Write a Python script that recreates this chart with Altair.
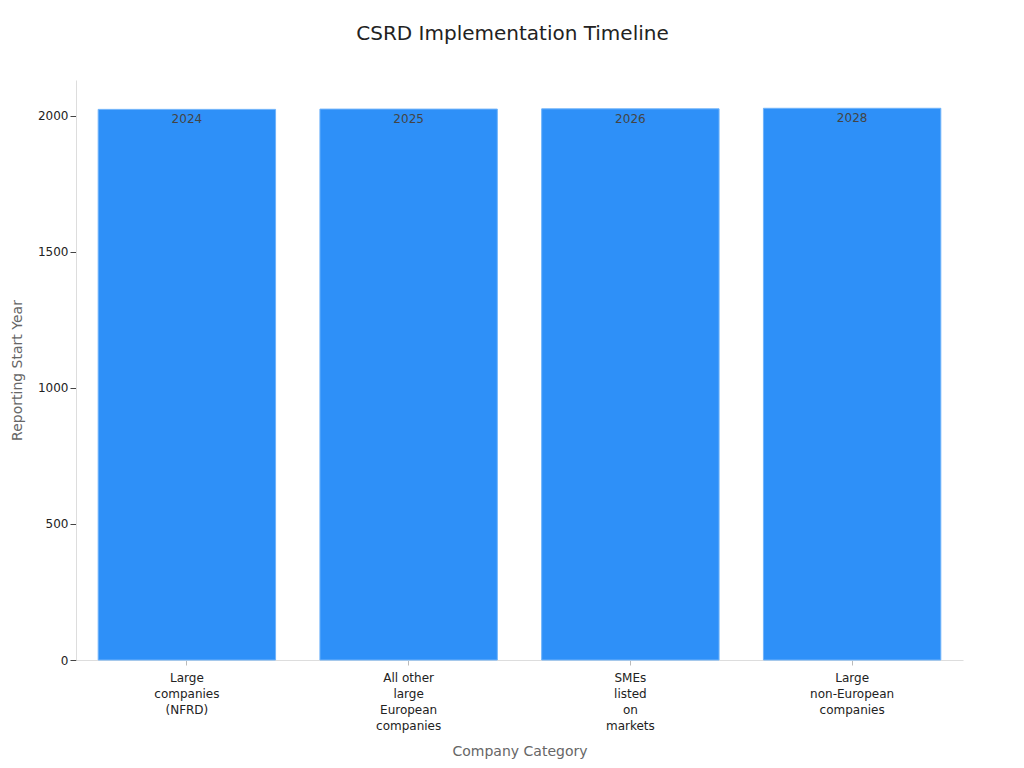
import pandas as pd
import altair as alt

categories = [
    "Large\ncompanies\n(NFRD)",
    "All other\nlarge\nEuropean\ncompanies",
    "SMEs\nlisted\non\nmarkets",
    "Large\nnon-European\ncompanies",
]
start_years = [2024, 2025, 2026, 2028]

df = pd.DataFrame({"category": categories, "year": start_years})
df["year_label"] = df["year"].astype(str)

font = "DejaVu Sans"

base = alt.Chart(df).encode(
    x=alt.X(
        "category:N",
        sort=categories,
        title="Company Category",
        scale=alt.Scale(paddingInner=0.2, paddingOuter=0.1),
        axis=alt.Axis(
            labelAngle=0,
            labelExpr="split(datum.label, '\\n')",
            labelLineHeight=16,
            labelFontSize=12,
            labelColor="#222",
            labelPadding=7,
            tickColor="#bbb",
            tickSize=5,
            domainColor="#ddd",
            titleFontSize=14,
            titleColor="#666",
            titleFontWeight="normal",
            titlePadding=13,
        ),
    ),
    y=alt.Y(
        "year:Q",
        title="Reporting Start Year",
        scale=alt.Scale(domain=[0, 2132], nice=False),
        axis=alt.Axis(
            values=[0, 500, 1000, 1500, 2000],
            format="d",
            grid=False,
            labelFontSize=12,
            labelColor="#222",
            tickColor="#444",
            tickSize=6,
            domainColor="#ddd",
            titleFontSize=14,
            titleColor="#666",
            titleFontWeight="normal",
            titlePadding=13,
        ),
    ),
)

bars = base.mark_bar(color="#2E90F8", stroke="#6FB3FA", strokeWidth=1)
labels = base.mark_text(baseline="top", dy=5, fontSize=12, color="#444").encode(
    text="year_label:N"
)

chart = (
    (bars + labels)
    .properties(
        width=887,
        height=580,
        title=alt.TitleParams(
            "CSRD Implementation Timeline",
            fontSize=20,
            fontWeight="normal",
            color="#222",
            offset=36,
            dx=-7,
        ),
        autosize=alt.AutoSizeParams(type="none"),
        padding={"left": 68, "top": 72, "right": 53, "bottom": 100},
    )
    .configure(font=font)
    .configure_view(stroke=None)
)

chart.save("out.html", embed_options={"renderer": "svg", "actions": False})
